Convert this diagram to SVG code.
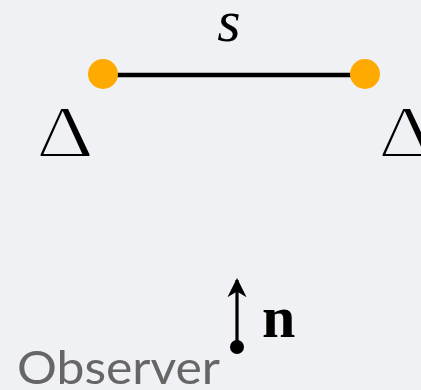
<svg xmlns="http://www.w3.org/2000/svg" width="421" height="390" viewBox="0 0 421 390">
<style>
.math{font-family:"Liberation Serif","DejaVu Serif",serif;fill:#000}
.delta{font-family:"Liberation Serif","DejaVu Serif",serif;fill:#000;font-size:74px;stroke:#eff1f5;stroke-width:1.9px}
.obs{font-family:Lato,"Open Sans",sans-serif;fill:#666}
</style>
<defs>
<marker id="ah" viewBox="0 0 10 10" refX="9" refY="5" markerWidth="6" markerHeight="6" orient="auto" markerUnits="strokeWidth">
<path d="M0,0 L10,5 L0,10 L3,5 z" fill="#000"/>
</marker>
</defs>
<rect width="421" height="390" fill="#eff1f5"/>
<g id="connectors">
<line x1="103" y1="75" x2="365" y2="75" stroke="#000" stroke-width="4.5"/>
<line x1="237" y1="347" x2="237" y2="280" stroke="#000" stroke-width="3.2" marker-end="url(#ah)"/>
</g>
<g id="node-left"><circle cx="103" cy="74" r="15" fill="#ffaa00"/></g>
<g id="node-right"><circle cx="365" cy="74" r="15" fill="#ffaa00"/></g>
<g id="label-s"><text class="math" x="229" y="41" font-size="60" font-style="italic" text-anchor="middle">s</text></g>
<g id="delta-left"><text class="delta" transform="translate(36,157) scale(1.22,1)">Δ</text></g>
<g id="delta-right"><text class="delta" transform="translate(378,157) scale(1.22,1)">Δ</text></g>
<g id="observer">
<circle cx="237" cy="347" r="7" fill="#000"/>
<text class="math" x="262" y="337" font-size="60" font-weight="bold">n</text>
<text class="obs" x="17" y="384" font-size="47" textLength="203" lengthAdjust="spacingAndGlyphs">Observer</text>
</g>
</svg>
